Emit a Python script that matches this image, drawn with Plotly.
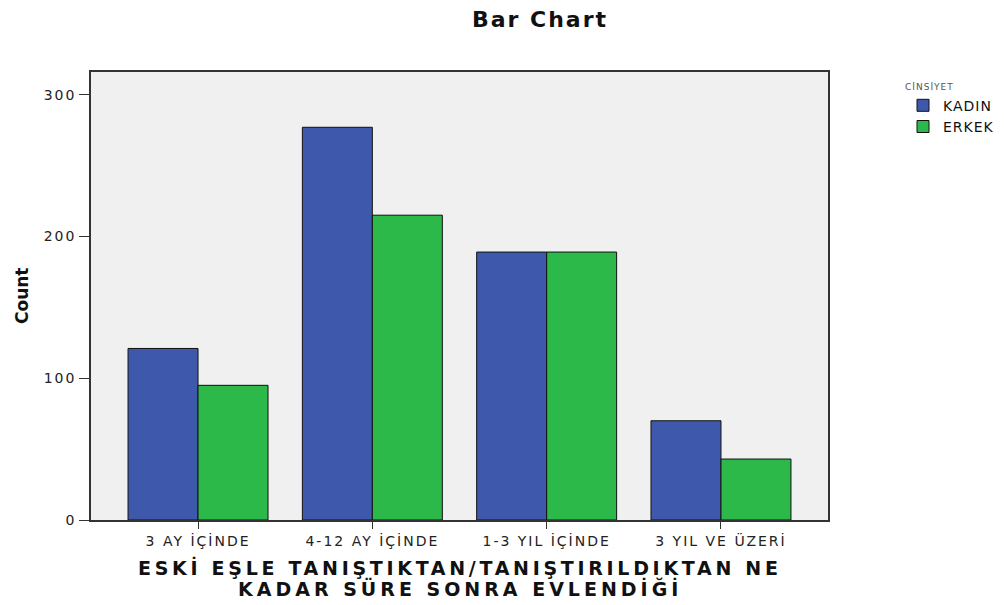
import plotly.graph_objects as go

categories = ["3 AY İÇİNDE", "4-12 AY İÇİNDE", "1-3 YIL İÇİNDE", "3 YIL VE ÜZERİ"]
series_names = ["KADIN", "ERKEK"]
kadin = [121, 277, 189, 70]
erkek = [95, 215, 189, 43]
y_ticks = [0, 100, 200, 300]

FONT = "DejaVu Sans, Arial, sans-serif"


def spaced(s, px):
    # the reference text is set wide, so add some letter spacing
    return '<span style="letter-spacing:{}px">{}</span>'.format(px, s)


fig = go.Figure()
fig.add_trace(go.Bar(x=categories, y=kadin, name=spaced(series_names[0], 1),
                     marker=dict(color="#3e58ac", line=dict(color="#111111", width=1))))
fig.add_trace(go.Bar(x=categories, y=erkek, name=spaced(series_names[1], 1),
                     marker=dict(color="#2db84a", line=dict(color="#111111", width=1))))

# page has an 8px body margin, so the figure is a bit smaller than the window
fig.update_layout(
    width=996, height=597,
    margin=dict(l=83, r=176, t=64, b=85),
    paper_bgcolor="white", plot_bgcolor="#f0f0f0",
    font=dict(family=FONT, color="#222222", size=14),
    barmode="group", bargap=0.197, bargroupgap=0,
    title=dict(text="<b>" + spaced("Bar Chart", 2) + "</b>", x=532 / 996, xanchor="center",
               y=1 - 11 / 597, yanchor="middle",
               font=dict(size=22, color="#111111", family=FONT)),
    legend=dict(xref="container", yref="container",
                x=895 / 996, y=1 - 70 / 597, xanchor="left", yanchor="top",
                bgcolor="rgba(0,0,0,0)", tracegroupgap=0,
                font=dict(size=14, color="#111111"),
                title=dict(text=spaced("CİNSİYET", 1), font=dict(size=9, color="#555555"))),
    showlegend=True,
)

fig.update_xaxes(
    range=[-0.614, 3.614],
    tickvals=categories, ticktext=[spaced(c, 2) for c in categories],
    showline=True, linecolor="#333333", linewidth=1.5, mirror=True,
    ticks="outside", ticklen=7, tickcolor="#333333",
    tickfont=dict(size=14, color="#222222"),
    showgrid=False,
)
fig.update_yaxes(
    range=[0, 316], tickvals=y_ticks, ticktext=[spaced(str(v), 2) for v in y_ticks],
    showline=True, linecolor="#333333", linewidth=1.5, mirror=True,
    ticks="outside", ticklen=10, tickcolor="#333333",
    tickfont=dict(size=14, color="#222222"),
    showgrid=False, zeroline=False,
)

# axis titles as annotations so the two x-title lines sit close together
fig.add_annotation(text="<b>" + spaced("ESKİ EŞLE TANIŞTIKTAN/TANIŞTIRILDIKTAN NE", 3.7) + "</b>",
                   xref="paper", yref="paper", x=0.5, y=-0.1071,
                   xanchor="center", yanchor="middle", showarrow=False,
                   font=dict(size=19, color="#111111", family=FONT))
fig.add_annotation(text="<b>" + spaced("KADAR SÜRE SONRA EVLENDİĞİ", 4) + "</b>",
                   xref="paper", yref="paper", x=0.5, y=-0.1518,
                   xanchor="center", yanchor="middle", showarrow=False,
                   font=dict(size=19, color="#111111", family=FONT))
fig.add_annotation(text="<b>Count</b>", textangle=-90,
                   xref="paper", yref="paper", x=-0.0936, y=0.5,
                   xanchor="center", yanchor="middle", showarrow=False,
                   font=dict(size=17, color="#111111", family=FONT))

fig.write_html("out.html")
